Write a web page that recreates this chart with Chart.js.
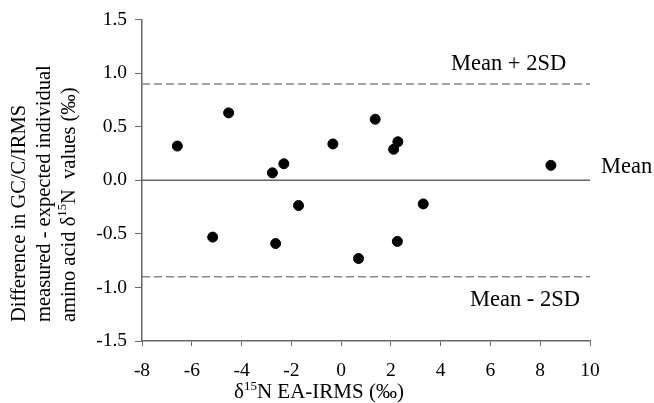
<!DOCTYPE html>
<html>
<head>
<meta charset="utf-8">
<script src="https://cdn.jsdelivr.net/npm/chart.js@4/dist/chart.umd.min.js"></script>
<style>
  html, body { margin: 0; padding: 0; background: #fff; }
  #wrap { width: 654px; height: 403px; position: relative; }
</style>
</head>
<body>
<div id="wrap"><canvas id="chart"></canvas></div>
<script>
// data
const eaIrms = [-6.58, -5.16, -4.52, -2.76, -2.63, -2.30, -1.71, -0.33, 0.70, 1.37, 2.11, 2.26, 2.28, 3.30, 8.43];
const diffValues = [0.32, -0.53, 0.63, 0.07, -0.59, 0.155, -0.235, 0.34, -0.73, 0.57, 0.29, -0.57, 0.36, -0.22, 0.14];
const meanValue = 0;
const upperLimit = 0.9;
const lowerLimit = -0.9;
const xRange = [-8, 10];
const yRange = [-1.5, 1.5];

const FONT = "'Liberation Serif', 'Times New Roman', serif";

const points = eaIrms.map((x, i) => ({ x: x, y: diffValues[i] }));
const hLine = v => xRange.map(x => ({ x: x, y: v }));

// draws text pieces, some of them raised as superscripts
function drawRich(ctx, parts, x, y, size) {
    let cx = x;
    parts.forEach(p => {
        let s = p.sup ? size * 0.62 : size;
        ctx.font = s + "px " + FONT;
        ctx.fillText(p.t, cx, p.sup ? y - size * 0.36 : y);
        cx += ctx.measureText(p.t).width;
    });
}

const labelPlugin = {
    id: 'labels',
    afterDraw(chart) {
        const ctx = chart.ctx;
        const ys = chart.scales.y;
        ctx.save();
        ctx.fillStyle = '#000';
        ctx.textBaseline = 'alphabetic';
        ctx.textAlign = 'left';
        ctx.font = "22.5px " + FONT;
        ctx.fillText("Mean + 2SD", 451, ys.getPixelForValue(upperLimit) - 14);
        ctx.fillText("Mean - 2SD", 470, ys.getPixelForValue(lowerLimit) + 29);
        ctx.fillText("Mean", 601, ys.getPixelForValue(meanValue) - 7.5);

        // x title
        drawRich(ctx, [{ t: "δ" }, { t: "15", sup: true }, { t: "N EA-IRMS (‰)" }], 234, 398, 21);

        // y title, three lines rotated
        ctx.rotate(-Math.PI / 2);
        ctx.textBaseline = 'middle';
        drawRich(ctx, [{ t: "Difference in GC/C/IRMS" }], -322, 20, 20.5);
        drawRich(ctx, [{ t: "measured - expected individual" }], -322, 45, 20.5);
        drawRich(ctx, [{ t: "amino acid δ" }, { t: "15", sup: true }, { t: "N  values (‰)" }], -322, 70, 20.5);
        ctx.restore();
    }
};

new Chart(document.getElementById('chart'), {
    type: 'scatter',
    data: {
        datasets: [
            { data: points, backgroundColor: '#000', borderColor: '#000', pointRadius: 5, pointHoverRadius: 5 },
            { type: 'line', data: hLine(meanValue), borderColor: '#666', borderWidth: 1.5, pointRadius: 0, fill: false },
            { type: 'line', data: hLine(upperLimit), borderColor: '#888', borderWidth: 1.5, borderDash: [8, 4], pointRadius: 0, fill: false },
            { type: 'line', data: hLine(lowerLimit), borderColor: '#888', borderWidth: 1.5, borderDash: [8, 4], pointRadius: 0, fill: false }
        ]
    },
    options: {
        responsive: true,
        maintainAspectRatio: false,
        animation: false,
        layout: { padding: { top: 19, right: 64, left: 0, bottom: 0 } },
        plugins: { legend: { display: false }, tooltip: { enabled: false } },
        scales: {
            x: {
                type: 'linear',
                min: xRange[0], max: xRange[1],
                ticks: { stepSize: 2, color: '#000', padding: 13, font: { family: FONT, size: 19.5 },
                         callback: v => String(v) },
                grid: { drawOnChartArea: false, drawTicks: true, tickLength: 5, color: '#666' },
                border: { color: '#666', width: 1.5 },
                afterFit: s => { s.height = 62; }
            },
            y: {
                min: yRange[0], max: yRange[1],
                ticks: { stepSize: 0.5, color: '#000', padding: 8, font: { family: FONT, size: 19.5 },
                         callback: v => v.toFixed(1) },
                grid: { drawOnChartArea: false, drawTicks: true, tickLength: 7, color: '#666' },
                border: { color: '#666', width: 1.5 },
                afterFit: s => { s.width = 142; }
            }
        }
    },
    plugins: [labelPlugin]
});
</script>
</body>
</html>
